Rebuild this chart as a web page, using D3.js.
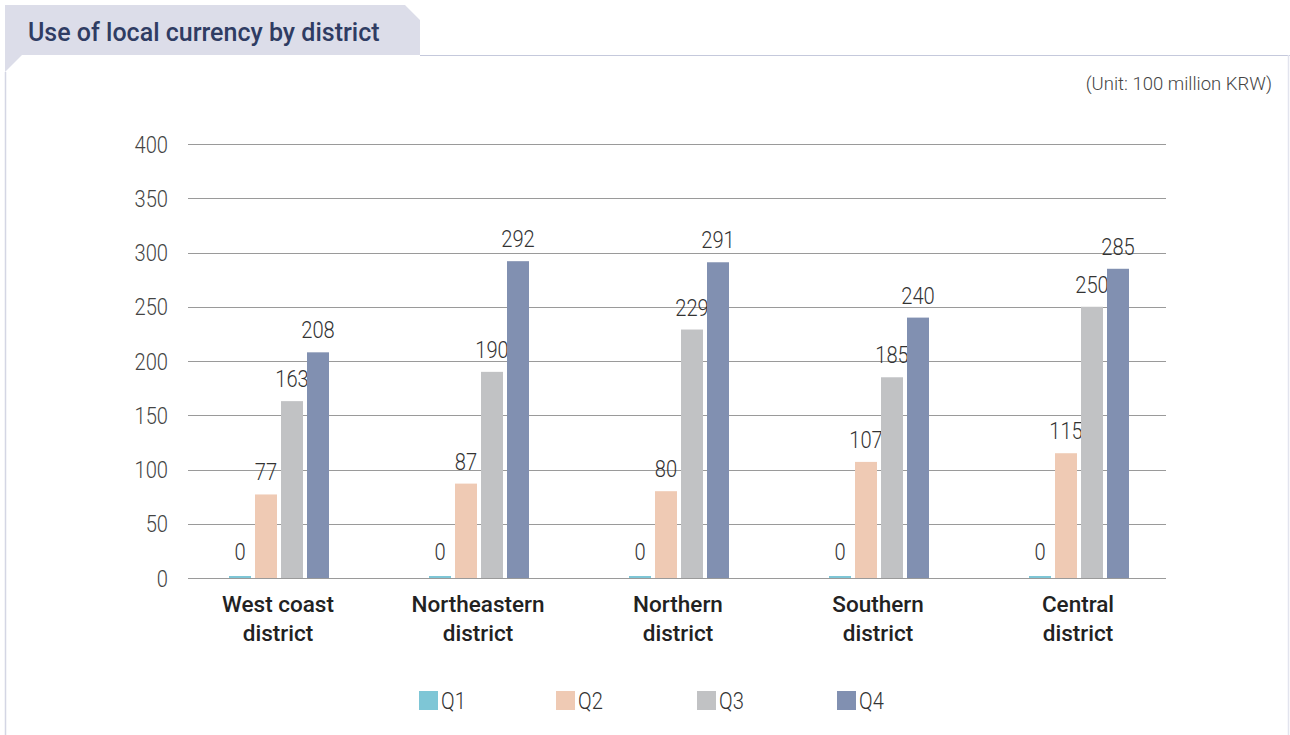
<!DOCTYPE html>
<html><head><meta charset="utf-8">
<script src="https://cdn.jsdelivr.net/npm/d3@7"></script>
<style>
html,body{margin:0;padding:0;background:#fff;}
svg{display:block;}
</style></head>
<body>
<svg id="chart" width="1290" height="735"></svg>
<script>
const categories = [["West coast","district"],["Northeastern","district"],["Northern","district"],["Southern","district"],["Central","district"]];
const seriesNames = ["Q1","Q2","Q3","Q4"];
const q1 = [0,0,0,0,0];
const q2 = [77,87,80,107,115];
const q3 = [163,190,229,185,250];
const q4 = [208,292,291,240,285];
const yTicks = [0,50,100,150,200,250,300,350,400];
const colors = ["#7ec6d6","#efcab4","#c1c2c4","#8190b1"];
const titleText = "Use of local currency by district";
const unitText = "(Unit: 100 million KRW)";

const series = [q1,q2,q3,q4];
const svg = d3.select("#chart");
const numFont = "'Roboto','Noto Sans',sans-serif";
const txtFont = "'Roboto','Noto Sans',sans-serif";
const SX = 0.84;

function numText(g, x, y, str, size, anchor, fill){
  return g.append("text").attr("transform",`translate(${x},${y}) scale(${SX},1)`)
    .attr("text-anchor",anchor).text(str)
    .attr("font-family",numFont).attr("font-size",size).attr("font-weight",300).attr("fill",fill);
}

// frame
svg.append("path").attr("d","M5,5 L405,5 L420,20 L420,55 L22,55 L5,72 Z").attr("fill","#dcdde9");
svg.append("line").attr("x1",420).attr("x2",1290).attr("y1",55.5).attr("y2",55.5).attr("stroke","#c5c9dc").attr("stroke-width",1);
svg.append("line").attr("x1",5.5).attr("x2",5.5).attr("y1",72).attr("y2",735).attr("stroke","#d4d6e4").attr("stroke-width",1.5);
svg.append("line").attr("x1",1288.5).attr("x2",1288.5).attr("y1",55).attr("y2",735).attr("stroke","#e2e4ee").attr("stroke-width",1.5);
svg.append("text").attr("x",28).attr("y",41).text(titleText)
  .attr("font-family",txtFont).attr("font-size",25).attr("font-weight",500).attr("fill","#2f3c63");
svg.append("text").attr("x",1272).attr("y",90).attr("text-anchor","end").text(unitText)
  .attr("font-family",numFont).attr("font-size",18.5).attr("font-weight",300).attr("fill","#444");

const x0 = d3.scaleBand().domain(d3.range(categories.length)).range([179,1179]);
const y = d3.scaleLinear().domain([0,400]).range([578,144]);
const barW = 22, step = 26;

// grid
svg.append("g").selectAll("line").data(yTicks).join("line")
  .attr("x1",188).attr("x2",1166).attr("y1",d=>Math.round(y(d))+0.5).attr("y2",d=>Math.round(y(d))+0.5)
  .attr("stroke","#9a9a9a").attr("stroke-width",1);
const gy = svg.append("g");
yTicks.forEach(d=>numText(gy,168,y(d)+8.5,d,24,"end","#444"));

// bars
const gb = svg.append("g");
categories.forEach((c,i)=>{
  const cx = x0(i) + x0.bandwidth()/2;
  series.forEach((s,j)=>{
    const bx = cx - 2*step + j*step + (step-barW)/2;
    const v = s[i];
    const h = Math.max(2, y(0)-y(v));
    gb.append("rect").attr("x",bx).attr("y",y(0)-h).attr("width",barW).attr("height",h).attr("fill",colors[j]);
    numText(gb, bx+barW/2, y(0)-h-(v===0?16:14), v, 24, "middle", "#333");
  });
  const t = svg.append("text").attr("x",cx-1).attr("y",612).attr("text-anchor","middle")
    .attr("font-family",txtFont).attr("font-size",22.5).attr("font-weight",500).attr("fill","#222");
  c.forEach((line,k)=>t.append("tspan").attr("x",cx-1).attr("dy",k?29:0).text(line));
});

// legend
const legX = [419,556,697,837];
const gl = svg.append("g");
seriesNames.forEach((n,j)=>{
  gl.append("rect").attr("x",legX[j]).attr("y",691).attr("width",19).attr("height",19).attr("fill",colors[j]);
  numText(gl, legX[j]+22, 709, n, 24, "start", "#333");
});
</script>
</body></html>
